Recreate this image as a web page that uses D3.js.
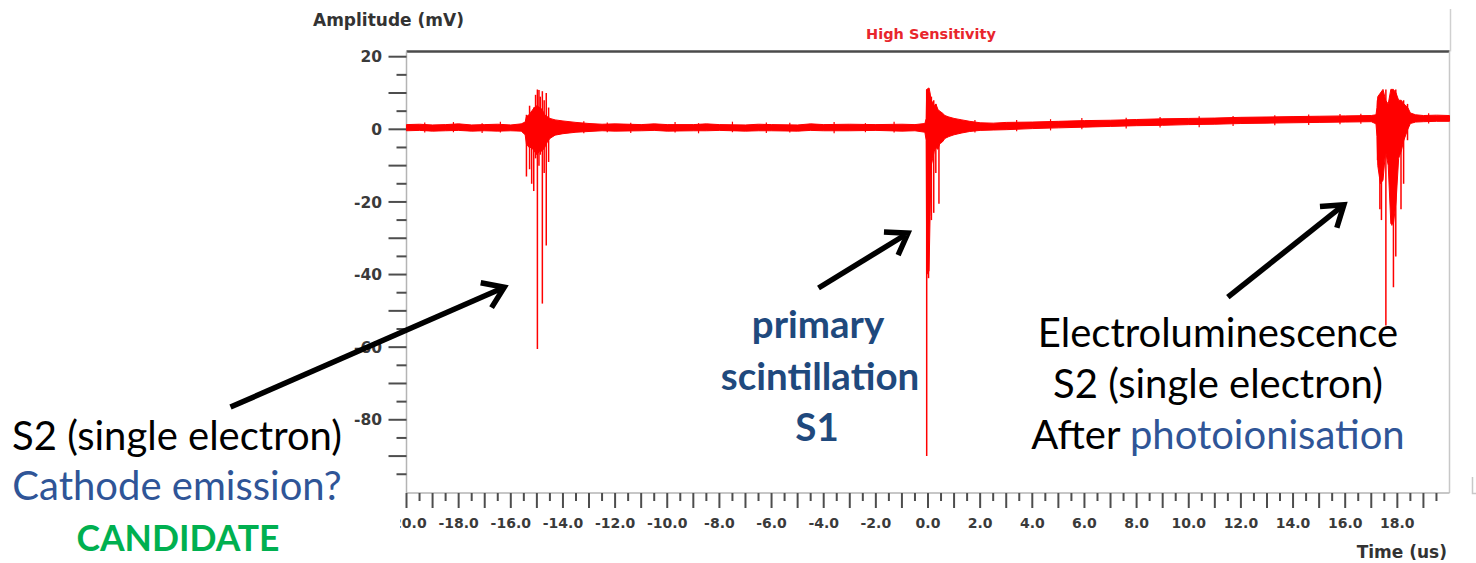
<!DOCTYPE html>
<html>
<head>
<meta charset="utf-8">
<script src="https://cdn.jsdelivr.net/npm/d3@7"></script>
<style>
  body { margin: 0; background: #fff; }
  svg { display: block; font-family: "DejaVu Sans", sans-serif; }
</style>
</head>
<body>
<svg id="chart" width="1476" height="563"></svg>
<script>
const xTickLabels = [-20, -18, -16, -14, -12, -10, -8, -6, -4, -2, 0, 2, 4, 6, 8, 10, 12, 14, 16, 18];
const yTickLabels = [20, 0, -20, -40, -60, -80];

// noise band of the trace: [time us, upper mV, lower mV]
const envelope = [
  [-20.0, 1.3, -0.4], [-19.5, 1.4, -0.3], [-19.0, 1.2, -0.5], [-18.5, 1.3, -0.4],
  [-18.0, 1.5, -0.3], [-17.5, 1.2, -0.5], [-17.0, 1.3, -0.4], [-16.5, 1.4, -0.5],
  [-16.0, 1.2, -0.4], [-15.6, 1.5, -0.5], [-15.45, 2.0, -1.5], [-15.4, 3.5, -4],
  [-15.3, 4, -5], [-15.2, 5, -5], [-15.1, 6, -6], [-15.0, 6.5, -7], [-14.9, 6, -6],
  [-14.8, 5.5, -6], [-14.7, 4, -5], [-14.6, 3.5, -3.5], [-14.5, 3, -2.5], [-14.3, 2.6, -1.6],
  [-14.0, 2.3, -1.2], [-13.5, 1.9, -0.8], [-13.0, 1.6, -0.6], [-12.5, 1.4, -0.4],
  [-12.0, 1.5, -0.5], [-11.0, 1.3, -0.4], [-10.5, 1.5, -0.3], [-10.0, 1.3, -0.5],
  [-9.0, 1.3, -0.4], [-8.5, 1.5, -0.4], [-8.0, 1.3, -0.3], [-7.0, 1.2, -0.5],
  [-6.5, 1.4, -0.4], [-6.0, 1.3, -0.4], [-5.0, 1.2, -0.5], [-4.5, 1.5, -0.3],
  [-4.0, 1.3, -0.4], [-3.0, 1.4, -0.4], [-2.0, 1.3, -0.3], [-1.0, 1.4, -0.5],
  [-0.5, 1.3, -0.4], [-0.12, 1.6, -0.8], [-0.07, 3, -3], [-0.05, 11, -40],
  [0.04, 11.4, -39], [0.08, 10, -24], [0.12, 8, -10], [0.17, 7.5, -8.5],
  [0.24, 6.5, -6], [0.3, 7, -5], [0.38, 5.5, -5.5], [0.45, 5, -4], [0.55, 4.5, -3.5],
  [0.65, 3.8, -2.5], [0.8, 3.4, -2], [1.0, 3.0, -1.5], [1.3, 2.6, -1.0],
  [1.6, 2.2, -0.6], [2.0, 1.8, -0.3], [2.5, 1.7, -0.2], [3.0, 1.9, -0.1],
  [4.0, 2.0, 0.2], [5.0, 2.2, 0.4], [6.0, 2.4, 0.6], [7.0, 2.5, 0.8],
  [8.0, 2.7, 1.0], [9.0, 2.9, 1.1], [10.0, 3.0, 1.3], [11.0, 3.1, 1.4],
  [12.0, 3.3, 1.6], [13.0, 3.4, 1.7], [14.0, 3.5, 1.8], [15.0, 3.6, 1.9],
  [16.0, 3.7, 2.0], [17.0, 3.8, 2.1], [17.18, 4, 1.5], [17.22, 6, -2],
  [17.25, 9, -10], [17.35, 10, -15], [17.45, 11, -14], [17.55, 8, -6],
  [17.65, 7, -10], [17.75, 11, -26], [17.85, 11, -26], [17.95, 10, -20],
  [18.05, 8, -8], [18.15, 8, -6], [18.25, 7, -3], [18.4, 6, 0], [18.5, 4.5, 1.6],
  [18.7, 4.0, 2.0], [19.0, 3.8, 2.1], [19.5, 3.9, 2.2], [20.0, 3.8, 2.2]
];

// small noise glitches on the baseline: [time us, lowest mV, highest mV]
const noiseSpikes = [
  [-19.3, -0.9, 1.9], [-18.2, -0.8, 2.0], [-17.1, -1.0, 1.7], [-16.4, -0.9, 2.1],
  [-13.2, -1.1, 2.2], [-12.3, -0.8, 1.9], [-11.4, -1.0, 1.8], [-9.7, -0.9, 2.0],
  [-8.8, -1.1, 1.7], [-7.5, -0.8, 2.1], [-6.2, -1.0, 1.9], [-5.3, -0.9, 1.8],
  [-3.6, -1.1, 2.0], [-2.4, -0.8, 1.7], [-1.3, -0.9, 2.1], [1.8, -0.9, 2.6],
  [3.4, -0.5, 2.6], [4.7, -0.3, 2.8], [5.9, 0.0, 3.1], [7.6, 0.2, 3.2],
  [8.9, 0.5, 3.4], [10.4, 0.6, 3.6], [11.7, 0.9, 3.7], [13.3, 1.1, 3.9],
  [14.6, 1.2, 4.1], [15.8, 1.4, 4.2], [16.6, 1.5, 4.3], [19.2, 1.6, 4.4]
];

// event spikes: [time us, lowest mV, highest mV]
const cathodeSpikes = [
  [-15.40, -13, 4], [-15.28, -11, 6.5], [-15.20, -15, 5], [-15.12, -17, 6],
  [-15.05, -8, 9.5], [-14.98, -60.5, 11], [-14.92, -10, 10.8], [-14.87, -7, 9],
  [-14.79, -48, 10.5], [-14.72, -12, 8], [-14.64, -32, 10], [-14.55, -9, 6]
];
const s1Spikes = [
  [-0.05, -90, 11], [0.02, -41, 10], [0.13, -25, 9], [0.22, -23, 8],
  [0.30, -12, 7], [0.42, -20.5, 5]
];
const photoSpikes = [
  [17.24, -8.5, 8], [17.33, -22, 9], [17.39, -25, 10], [17.56, -54, 11],
  [17.79, -26.5, 10], [17.85, -43.5, 9], [17.94, -35, 11], [18.14, -22, 7],
  [18.24, -15, 8], [18.39, -3, 7]
];

// arrows: [tail time, tail mV, tip time, tip mV]
const arrows = [
  [-26.75, -76.5, -16.25, -43.5],
  [-4.2, -43.7, -0.77, -28.6],
  [11.5, -46.2, 15.95, -20.8]
];

/* ---- scales ---- */
const svg = d3.select('#chart');
const x = d3.scaleLinear().domain([-20, 20]).range([406.5, 1449.5]);
const y = d3.scaleLinear().domain([-100, 20]).range([492.4, 56.7]);
const plotTop = 51.5, plotBottom = 493;

/* frame */
svg.append('line').attr('x1', 1450.5).attr('x2', 1450.5).attr('y1', 9).attr('y2', plotTop)
  .attr('stroke', '#d0d0d0').attr('stroke-width', 1.5);
svg.append('line').attr('x1', x(-20)).attr('x2', x(20)).attr('y1', plotTop).attr('y2', plotTop)
  .attr('stroke', '#4a4a4a').attr('stroke-width', 2.5);
svg.append('line').attr('x1', x(20)).attr('x2', x(20)).attr('y1', plotTop).attr('y2', plotBottom)
  .attr('stroke', '#c8c8c8').attr('stroke-width', 1.5);
svg.append('path').attr('d', 'M1472.5,477V493.5H1476').attr('fill', 'none')
  .attr('stroke', '#c8c8c8').attr('stroke-width', 1.5);

/* y axis */
const yAxisG = svg.append('g');
yAxisG.append('line').attr('x1', x(-20)).attr('x2', x(-20)).attr('y1', plotTop).attr('y2', plotBottom)
  .attr('stroke', '#b4b4b4').attr('stroke-width', 1.5);
yAxisG.selectAll('line.tk').data(d3.range(-95, 21, 5)).join('line').attr('class', 'tk')
  .attr('x1', d => x(-20) - (d % 10 === 0 ? 18 : 10)).attr('x2', x(-20))
  .attr('y1', d => y(d)).attr('y2', d => y(d))
  .attr('stroke', '#4d4d4d').attr('stroke-width', 2);
yAxisG.selectAll('text').data(yTickLabels).join('text')
  .attr('x', 382).attr('y', d => y(d)).attr('dy', '0.36em')
  .attr('text-anchor', 'end').attr('font-size', 15.5).attr('font-weight', 'bold')
  .attr('fill', '#3a3a3a').text(d => d);
svg.append('text').attr('x', 313).attr('y', 26).attr('font-size', 17).attr('font-weight', 'bold')
  .attr('fill', '#333').text('Amplitude (mV)');

/* x axis */
const xAxisG = svg.append('g');
xAxisG.append('line').attr('x1', x(-20)).attr('x2', x(20)).attr('y1', plotBottom).attr('y2', plotBottom)
  .attr('stroke', '#b4b4b4').attr('stroke-width', 1.5);
xAxisG.selectAll('line.tk').data(d3.range(-20, 19.6, 0.5)).join('line').attr('class', 'tk')
  .attr('x1', d => x(d)).attr('x2', d => x(d))
  .attr('y1', plotBottom).attr('y2', d => plotBottom + (Number.isInteger(d) ? 15 : 8))
  .attr('stroke', '#4d4d4d').attr('stroke-width', 2);
svg.append('clipPath').attr('id', 'xlab').append('rect')
  .attr('x', 400).attr('y', 500).attr('width', 1076).attr('height', 40);
xAxisG.append('g').attr('clip-path', 'url(#xlab)')
  .selectAll('text').data(xTickLabels).join('text')
  .attr('x', d => x(d)).attr('y', 528).attr('text-anchor', 'middle')
  .attr('font-size', 14).attr('font-weight', 'bold')
  .attr('fill', '#3a3a3a').text(d => d.toFixed(1));
svg.append('text').attr('x', 1447).attr('y', 558).attr('text-anchor', 'end')
  .attr('font-size', 17).attr('font-weight', 'bold').attr('fill', '#333').text('Time (us)');

/* title */
svg.append('text').attr('x', 931).attr('y', 39).attr('text-anchor', 'middle')
  .attr('font-size', 14.5).attr('font-weight', 'bold').attr('fill', '#e8262c')
  .text('High Sensitivity');

/* trace */
const traceG = svg.append('g');
traceG.append('path').datum(envelope)
  .attr('d', d3.area().x(d => x(d[0])).y0(d => y(d[2])).y1(d => y(d[1])))
  .attr('fill', '#ff0000').attr('stroke', '#ff0000').attr('stroke-width', 1);
traceG.selectAll('line.n').data(noiseSpikes).join('line').attr('class', 'n')
  .attr('x1', d => x(d[0])).attr('x2', d => x(d[0]))
  .attr('y1', d => y(d[1])).attr('y2', d => y(d[2]))
  .attr('stroke', '#ff0000').attr('stroke-width', 1.2);
traceG.selectAll('line.s').data([...cathodeSpikes, ...s1Spikes, ...photoSpikes]).join('line')
  .attr('class', 's')
  .attr('x1', d => x(d[0])).attr('x2', d => x(d[0]))
  .attr('y1', d => y(d[1])).attr('y2', d => y(d[2]))
  .attr('stroke', '#ff0000').attr('stroke-width', 1.5);

/* annotation arrows */
const arrowG = svg.append('g').attr('stroke', '#000').attr('fill', 'none')
  .attr('stroke-width', 5.5);
arrows.forEach(a => {
  const x0 = x(a[0]), y0 = y(a[1]), x1 = x(a[2]), y1 = y(a[3]);
  const ang = Math.atan2(y1 - y0, x1 - x0), len = 24, spread = 0.6;
  arrowG.append('line').attr('x1', x0).attr('y1', y0)
    .attr('x2', x1 - 3 * Math.cos(ang)).attr('y2', y1 - 3 * Math.sin(ang));
  arrowG.append('path').attr('stroke-linejoin', 'miter')
    .attr('d', `M${x1 - len * Math.cos(ang - spread)},${y1 - len * Math.sin(ang - spread)}` +
      `L${x1},${y1}L${x1 - len * Math.cos(ang + spread)},${y1 - len * Math.sin(ang + spread)}`);
});

/* annotation text */
const noteG = svg.append('g').attr('font-family', 'Lato, sans-serif').attr('text-anchor', 'middle');
const blue = '#2f5597', navy = '#1f497d';
noteG.append('text').attr('x', 177).attr('y', 450).attr('font-size', 40).text('S2 (single electron)');
noteG.append('text').attr('x', 177).attr('y', 500).attr('font-size', 40).attr('fill', blue).text('Cathode emission?');
noteG.append('text').attr('x', 178).attr('y', 551).attr('font-size', 35.5).attr('font-weight', 'bold')
  .attr('fill', '#00b050').text('CANDIDATE');

noteG.append('text').attr('x', 818).attr('y', 338).attr('font-size', 38.5).attr('font-weight', 'bold')
  .attr('fill', navy).text('primary');
noteG.append('text').attr('x', 820).attr('y', 390).attr('font-size', 38.5).attr('font-weight', 'bold')
  .attr('fill', navy).text('scintillation');
noteG.append('text').attr('x', 817).attr('y', 441).attr('font-size', 38.5).attr('font-weight', 'bold')
  .attr('fill', navy).text('S1');

noteG.append('text').attr('x', 1218).attr('y', 347).attr('font-size', 40).text('Electroluminescence');
noteG.append('text').attr('x', 1218).attr('y', 398).attr('font-size', 40).text('S2 (single electron)');
const after = noteG.append('text').attr('x', 1218).attr('y', 449).attr('font-size', 40);
after.append('tspan').text('After ');
after.append('tspan').attr('fill', blue).text('photoionisation');
</script>
</body>
</html>
